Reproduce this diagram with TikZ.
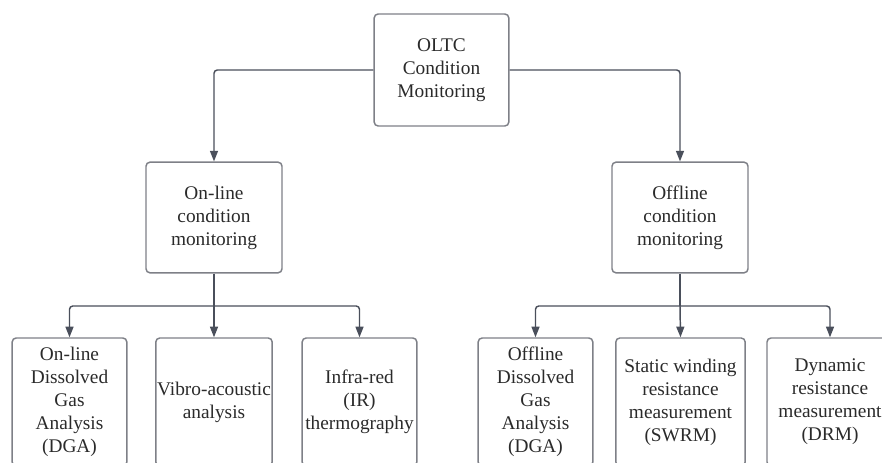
\documentclass[tikz,border=0pt]{standalone}
\usepackage{fontspec}
\setmainfont{Liberation Serif}
\usepackage{xcolor}
\usetikzlibrary{arrows.meta}

\definecolor{linecol}{HTML}{4A4F5B}
\definecolor{boxcol}{HTML}{7E8087}
\definecolor{txtcol}{HTML}{2A2A2A}

\begin{document}
\begin{tikzpicture}[x=0.75pt, y=-0.75pt,
  every node/.style={font=\fontsize{14.5}{17.25}\selectfont, text=txtcol},
  box/.style={draw=boxcol, line width=1.1pt, rounded corners=3pt, align=center,
              inner sep=1pt},
  link/.style={draw=linecol, line width=1.1pt, rounded corners=2.5pt},
  arr/.style={link, -{Triangle[width=6pt, length=8pt]}}]

  \clip (0,0) rectangle (882,463);

  % top level
  \node[box, minimum width=101pt, minimum height=84pt] (oltc) at (441.5,70) {OLTC\\Condition\\Monitoring};

  % second level
  \node[box, minimum width=102pt, minimum height=83pt] (on)  at (214,217.5) {On-line\\condition\\monitoring};
  \node[box, minimum width=102pt, minimum height=83pt] (off) at (680,217.5) {Offline\\condition\\monitoring};

  % on-line methods
  \node[box, minimum width=86pt, minimum height=96pt] (dgaon) at (69.5,402)  {On-line\\Dissolved\\Gas\\Analysis\\(DGA)};
  \node[box, minimum width=86pt, minimum height=96pt] (vib)   at (214,402)   {Vibro-acoustic\\analysis};
  \node[box, minimum width=86pt, minimum height=96pt] (ir)    at (359.5,402) {Infra-red\\(IR)\\thermography};

  % offline methods
  \node[box, minimum width=86pt, minimum height=96pt]   (dgaoff) at (535.5,402) {Offline\\Dissolved\\Gas\\Analysis\\(DGA)};
  \node[box, minimum width=97pt, minimum height=96pt]   (swrm)   at (680.5,402) {Static winding\\resistance\\measurement\\(SWRM)};
  \node[box, minimum width=94.5pt, minimum height=96pt] (drm)    at (830,402)   {Dynamic\\resistance\\measurement\\(DRM)};

  % branch points
  \coordinate (onbus)  at (214,306);
  \coordinate (offbus) at (680,306);

  \draw[arr] (oltc.west) -| (on.north);
  \draw[arr] (oltc.east) -| (off.north);

  \draw[link] (on.south) -- (onbus);
  \draw[arr] (onbus) -| (dgaon.north);
  \draw[arr] (onbus) -- (vib.north);
  \draw[arr] (onbus) -| (ir.north);

  \draw[link] (off.south) -- (offbus);
  \draw[arr] (offbus) -| (dgaoff.north);
  \draw[arr] (offbus) -- (swrm.north);
  \draw[arr] (offbus) -| (drm.north);
\end{tikzpicture}
\end{document}
